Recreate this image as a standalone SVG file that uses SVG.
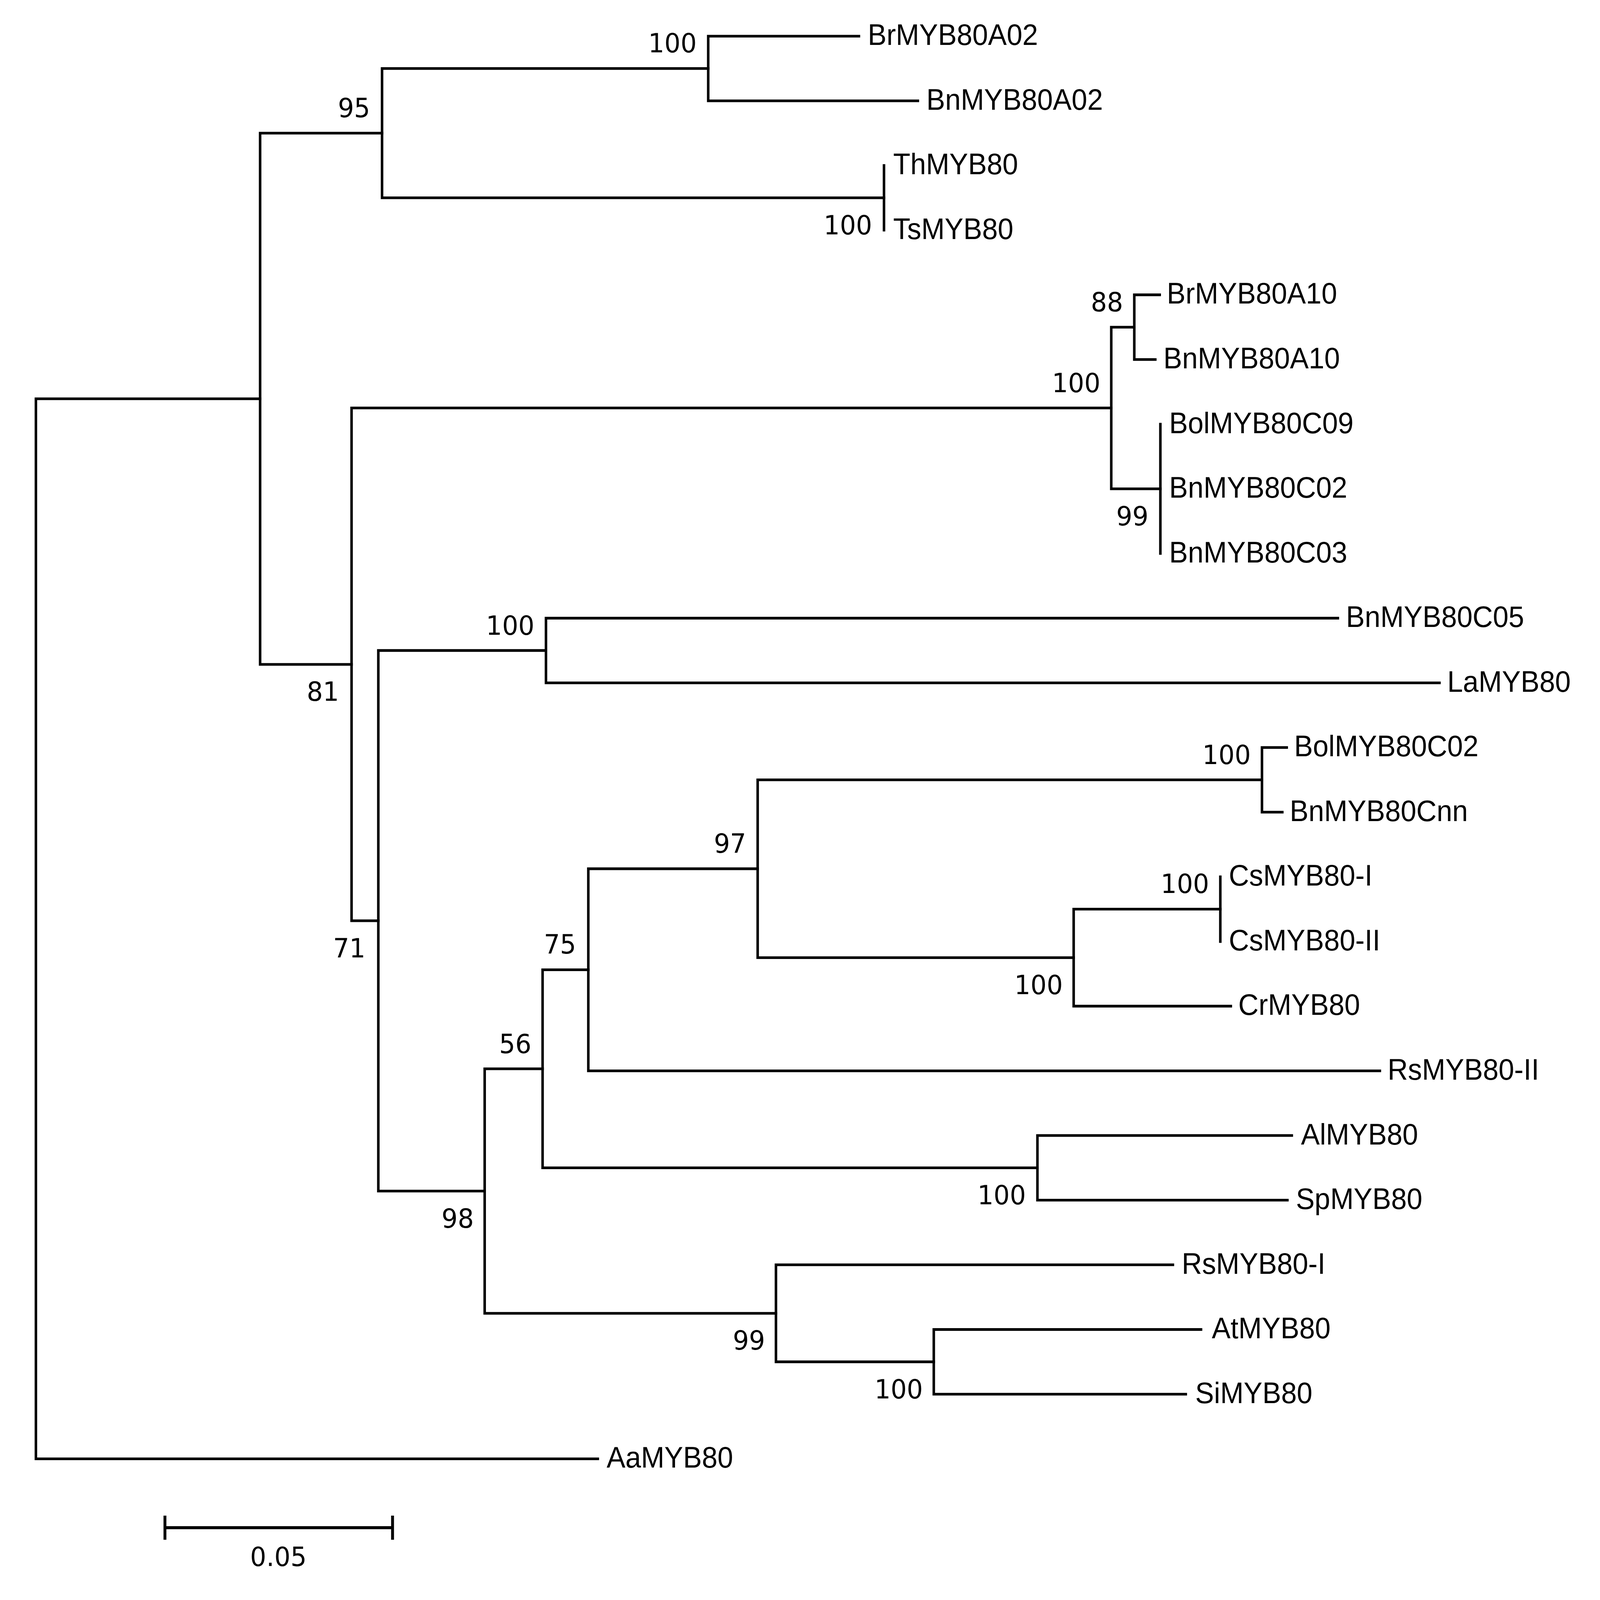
<svg xmlns="http://www.w3.org/2000/svg" width="4724" height="4513" viewBox="0 0 4724 4513" preserveAspectRatio="none">
<style>
svg:root{width:100vw;height:100vh}
.br{fill:none;stroke:#000;stroke-width:7.5;stroke-linecap:square;stroke-linejoin:miter}
.lf{font-family:"Liberation Sans",Arial,sans-serif;font-size:83px;fill:#000}
.bs{font-family:"DejaVu Sans",Verdana,sans-serif;font-size:75px;fill:#000;text-anchor:end}
</style>
<rect width="4724" height="4513" fill="#fff"/>
<g id="connectors">
<path class="br" d="M768 1124.8 H106 V4114.8 H1765"/>
<path class="br" d="M1128 375.6 H768 V1874 H1038"/>
<path class="br" d="M2091 193.2 H1128 V558 H2610"/>
<path class="br" d="M2536 102 H2091 V284.4 H2710"/>
<path class="br" d="M2610 466.8 V649.2"/>
<path class="br" d="M3281 1150.8 H1038 V2597.2 H1117"/>
<path class="br" d="M3349 922.8 H3281 V1378.8 H3426"/>
<path class="br" d="M3424 831.6 H3349 V1014 H3411"/>
<path class="br" d="M3426 1196.4 V1561.2"/>
<path class="br" d="M1612 1834.8 H1117 V3359.6 H1431"/>
<path class="br" d="M3950 1743.6 H1612 V1926 H4250"/>
<path class="br" d="M1602 3014.7 H1431 V3704.4 H2291"/>
<path class="br" d="M1737 2735.4 H1602 V3294 H3063"/>
<path class="br" d="M2237 2450.4 H1737 V3020.4 H4074"/>
<path class="br" d="M3726 2199.6 H2237 V2701.2 H3170"/>
<path class="br" d="M3799 2108.4 H3726 V2290.8 H3786"/>
<path class="br" d="M3603 2564.4 H3170 V2838 H3634"/>
<path class="br" d="M3603 2473.2 V2655.6"/>
<path class="br" d="M3814 3202.8 H3063 V3385.2 H3801"/>
<path class="br" d="M3463 3567.6 H2291 V3841.2 H2757"/>
<path class="br" d="M3546 3750 H2757 V3932.4 H3501"/>
</g>
<g id="bootstrap">
<text class="bs" x="2057" y="148">100</text>
<text class="bs" x="1093" y="331">95</text>
<text class="bs" x="2575" y="661">100</text>
<text class="bs" x="3316" y="878">88</text>
<text class="bs" x="3249" y="1106">100</text>
<text class="bs" x="3391" y="1482">99</text>
<text class="bs" x="1578" y="1790">100</text>
<text class="bs" x="1001" y="1977">81</text>
<text class="bs" x="1079" y="2700">71</text>
<text class="bs" x="2203" y="2405">97</text>
<text class="bs" x="1701" y="2690">75</text>
<text class="bs" x="1569" y="2970">56</text>
<text class="bs" x="3693" y="2155">100</text>
<text class="bs" x="3570" y="2519">100</text>
<text class="bs" x="3138" y="2804">100</text>
<text class="bs" x="3029" y="3397">100</text>
<text class="bs" x="1399" y="3463">98</text>
<text class="bs" x="2259" y="3807">99</text>
<text class="bs" x="2725" y="3944">100</text>
</g>
<g id="n-BrMYB80A02"><text class="lf" x="2562" y="127">BrMYB80A02</text></g>
<g id="n-BnMYB80A02"><text class="lf" x="2735" y="309.4">BnMYB80A02</text></g>
<g id="n-ThMYB80"><text class="lf" x="2637" y="491.8">ThMYB80</text></g>
<g id="n-TsMYB80"><text class="lf" x="2637" y="674.2">TsMYB80</text></g>
<g id="n-BrMYB80A10"><text class="lf" x="3445" y="856.6">BrMYB80A10</text></g>
<g id="n-BnMYB80A10"><text class="lf" x="3435" y="1039">BnMYB80A10</text></g>
<g id="n-BolMYB80C09"><text class="lf" x="3452" y="1221.4">BolMYB80C09</text></g>
<g id="n-BnMYB80C02"><text class="lf" x="3452" y="1403.8">BnMYB80C02</text></g>
<g id="n-BnMYB80C03"><text class="lf" x="3452" y="1586.2">BnMYB80C03</text></g>
<g id="n-BnMYB80C05"><text class="lf" x="3974" y="1768.6">BnMYB80C05</text></g>
<g id="n-LaMYB80"><text class="lf" x="4273" y="1951">LaMYB80</text></g>
<g id="n-BolMYB80C02"><text class="lf" x="3821" y="2133.4">BolMYB80C02</text></g>
<g id="n-BnMYB80Cnn"><text class="lf" x="3808" y="2315.8">BnMYB80Cnn</text></g>
<g id="n-CsMYB80-I"><text class="lf" x="3628" y="2498.2">CsMYB80-I</text></g>
<g id="n-CsMYB80-II"><text class="lf" x="3628" y="2680.6">CsMYB80-II</text></g>
<g id="n-CrMYB80"><text class="lf" x="3656" y="2863">CrMYB80</text></g>
<g id="n-RsMYB80-II"><text class="lf" x="4097" y="3045.4">RsMYB80-II</text></g>
<g id="n-AlMYB80"><text class="lf" x="3841" y="3227.8">AlMYB80</text></g>
<g id="n-SpMYB80"><text class="lf" x="3826" y="3410.2">SpMYB80</text></g>
<g id="n-RsMYB80-I"><text class="lf" x="3489" y="3592.6">RsMYB80-I</text></g>
<g id="n-AtMYB80"><text class="lf" x="3578" y="3775">AtMYB80</text></g>
<g id="n-SiMYB80"><text class="lf" x="3529" y="3957.4">SiMYB80</text></g>
<g id="n-AaMYB80"><text class="lf" x="1791" y="4139.8">AaMYB80</text></g>
<g id="scalebar">
<path class="br" d="M487 4309 H1159 M487 4275 V4343 M1159 4275 V4343" style="stroke-width:8.5;stroke-linecap:butt"/>
<text class="bs" x="822" y="4417" style="text-anchor:middle">0.05</text>
</g>
</svg>
